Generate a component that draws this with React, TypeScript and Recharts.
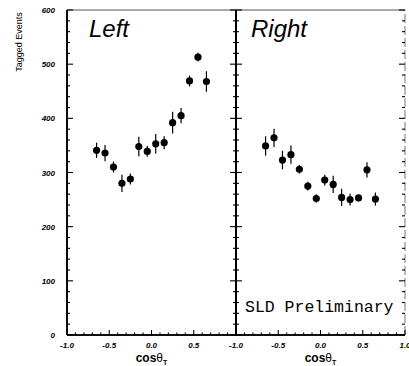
import { ScatterChart, Scatter, XAxis, YAxis, ErrorBar, Label, ReferenceLine } from 'recharts'

// bin centres in cos(theta_T), same for both hemispheres
const binCenters = [-0.65, -0.55, -0.45, -0.35, -0.25, -0.15, -0.05, 0.05, 0.15, 0.25, 0.35, 0.45, 0.55, 0.65]
const leftCounts = [341, 336, 310, 280, 288, 348, 339, 353, 355, 392, 405, 469, 513, 468]
const leftErrors = [14, 15, 10, 16, 10, 18, 10, 18, 12, 20, 14, 10, 8, 19]
const rightCounts = [349, 364, 323, 333, 306, 275, 252, 286, 278, 254, 250, 253, 305, 251]
const rightErrors = [18, 17, 17, 17, 8, 8, 8, 10, 16, 16, 11, 6, 14, 12]

const xTicks = [-1, -0.9, -0.8, -0.7, -0.6, -0.5, -0.4, -0.3, -0.2, -0.1, 0, 0.1, 0.2, 0.3, 0.4, 0.5, 0.6, 0.7, 0.8, 0.9, 1]
const majorX = [-1, -0.5, 0, 0.5, 1]
const xTickLabels = ['-1.0', '-0.5', '0.0', '0.5', '1.0']
const yTicks = [0, 20, 40, 60, 80, 100, 120, 140, 160, 180, 200, 220, 240, 260, 280, 300, 320, 340, 360, 380, 400, 420, 440, 460, 480, 500, 520, 540, 560, 580, 600]
const yTickLabels = ['0', '100', '200', '300', '400', '500', '600']

const sans = '"Liberation Sans", Arial, sans-serif'
const mono = '"Liberation Mono", "DejaVu Sans Mono", monospace'

// inward tick lengths, in data units (about 6px / 3px on screen)
const Y_TICK_MAJOR = 0.071
const Y_TICK_MINOR = 0.0355
const X_TICK_MAJOR = 9.2
const X_TICK_MINOR = 4.6

function toRows(counts: number[], errors: number[]) {
  return binCenters.map((x, i) => ({ x, y: counts[i], err: errors[i] }))
}

const isMajorX = (v: number) => majorX.some(m => Math.abs(m - v) < 1e-6)

// frame edges and inward ticks, drawn as one-sided error bars off invisible points
const leftTicks = yTicks.map(v => ({ x: -1, y: v, e: [0, v % 100 === 0 ? Y_TICK_MAJOR : Y_TICK_MINOR] }))
const rightTicks = yTicks.map(v => ({ x: 1, y: v, e: [v % 100 === 0 ? Y_TICK_MAJOR : Y_TICK_MINOR, 0] }))
const bottomTicks = xTicks.map(v => ({ x: v, y: 0, e: [0, isMajorX(v) ? X_TICK_MAJOR : X_TICK_MINOR] }))
const leftEdge = [{ x: -1, y: 300, e: 300 }]
const bottomEdge = [{ x: 0, y: 0, e: 1 }]

function XTick(props: any) {
  const { x, y, payload, skipLast } = props
  const idx = majorX.findIndex(m => Math.abs(m - payload.value) < 1e-6)
  if (idx < 0 || (skipLast && idx === majorX.length - 1)) return <g />
  return (
    <text x={x} y={y + 13} textAnchor="middle" fontSize={8} fontStyle="italic" fontWeight="bold" fontFamily={sans} fill="#000">
      {xTickLabels[idx]}
    </text>
  )
}

function YTick(props: any) {
  const { x, y, payload, labels } = props
  if (!labels || payload.value % 100 !== 0) return <g />
  return (
    <text x={x - 12} y={y + 3} textAnchor="end" fontSize={8} fontStyle="italic" fontWeight="bold" fontFamily={sans} fill="#000">
      {yTickLabels[payload.value / 100]}
    </text>
  )
}

function CosTitle({ viewBox }: any) {
  const cx = viewBox.x + viewBox.width / 2
  return (
    <text x={cx} y={viewBox.y + 27} textAnchor="middle" fontFamily={sans} fontSize={12} fontWeight="bold" fill="#000">
      cos<tspan fontWeight="normal">θ</tspan><tspan dy={3} fontSize={7}>T</tspan>
    </text>
  )
}

function PanelText({ viewBox, name, nameDx, yTitle, note }: any) {
  return (
    <g>
      <text x={viewBox.x + nameDx} y={viewBox.y - 298} fontFamily={sans} fontSize={24} fontStyle="italic" fill="#000">{name}</text>
      {yTitle && (
        <text x={viewBox.x - 45} y={viewBox.y - 293} transform={`rotate(-90 ${viewBox.x - 45} ${viewBox.y - 293})`}
          textAnchor="middle" fontFamily={sans} fontSize={9} fill="#000">Tagged Events</text>
      )}
      {note && (
        <text x={viewBox.x + 9} y={viewBox.y - 23} fontFamily={mono} fontSize={16.5} fill="#000">{note}</text>
      )}
    </g>
  )
}

function Dot(props: any) {
  return <circle cx={props.cx} cy={props.cy} r={3.6} fill="#000" />
}

const Hidden = () => <g />

function Panel({ data, width, margin, leftWidth, leftLabels, skipLast, rightBorder, name, nameDx, note }: any) {
  const ids = { xAxisId: 'b', yAxisId: 'l' }
  return (
    <ScatterChart width={width} height={366} margin={margin}>
      <XAxis
        xAxisId="b" dataKey="x" type="number" domain={[-1, 1]} ticks={xTicks} interval={0}
        height={31} tickSize={0} tickMargin={0} tickLine={false}
        axisLine={{ stroke: '#000', strokeWidth: 1.5 }}
        tick={(p: any) => <XTick {...p} skipLast={skipLast} />}
      >
        <Label content={<CosTitle />} />
        <Label content={<PanelText name={name} nameDx={nameDx} yTitle={leftLabels} note={note} />} />
      </XAxis>
      <YAxis
        yAxisId="l" dataKey="y" type="number" domain={[0, 600]} ticks={yTicks} interval={0}
        width={leftWidth} tickSize={0} tickMargin={0} tickLine={false}
        axisLine={{ stroke: '#000', strokeWidth: 1.6 }}
        tick={(p: any) => <YTick {...p} labels={leftLabels} />}
      />
      <ReferenceLine {...ids} ifOverflow="visible" y={600} stroke="#555" strokeWidth={1.2} />
      <ReferenceLine {...ids} ifOverflow="visible" x={1} stroke={rightBorder ? '#777' : '#000'} strokeWidth={rightBorder ? 1 : 1.6}
        strokeDasharray={rightBorder ? '9 3' : undefined} />

      <Scatter {...ids} data={leftEdge} shape={<Hidden />} isAnimationActive={false}>
        <ErrorBar dataKey="e" direction="y" width={0} stroke="#000" strokeWidth={1.6} />
      </Scatter>
      <Scatter {...ids} data={bottomEdge} shape={<Hidden />} isAnimationActive={false}>
        <ErrorBar dataKey="e" direction="x" width={0} stroke="#000" strokeWidth={1.5} />
      </Scatter>
      <Scatter {...ids} data={leftTicks} shape={<Hidden />} isAnimationActive={false}>
        <ErrorBar dataKey="e" direction="x" width={0} stroke="#000" strokeWidth={1.1} />
      </Scatter>
      <Scatter {...ids} data={rightTicks} shape={<Hidden />} isAnimationActive={false}>
        <ErrorBar dataKey="e" direction="x" width={0} stroke="#000" strokeWidth={1.1} />
      </Scatter>
      <Scatter {...ids} data={bottomTicks} shape={<Hidden />} isAnimationActive={false}>
        <ErrorBar dataKey="e" direction="y" width={0} stroke="#000" strokeWidth={1.1} />
      </Scatter>

      <Scatter {...ids} data={data} shape={<Dot />} isAnimationActive={false}>
        <ErrorBar dataKey="err" direction="y" width={0} stroke="#000" strokeWidth={1.2} />
      </Scatter>
    </ScatterChart>
  )
}

export default function App() {
  const left = toRows(leftCounts, leftErrors)
  const right = toRows(rightCounts, rightErrors)

  return (
    <div style={{ position: 'absolute', left: 0, top: 0, width: 409, height: 366, background: '#fff', overflow: 'hidden' }}>
      <div style={{ position: 'absolute', left: 0, top: 0 }}>
        <Panel data={left} width={238} margin={{ top: 10, right: 2, bottom: 0, left: 27 }} leftWidth={40}
          leftLabels skipLast name="Left" nameDx={22} />
      </div>
      <div style={{ position: 'absolute', left: 214, top: 0 }}>
        <Panel data={right} width={195} margin={{ top: 10, right: 4, bottom: 0, left: 21 }} leftWidth={1}
          leftLabels={false} rightBorder name="Right" nameDx={15} note="SLD Preliminary" />
      </div>
    </div>
  )
}
